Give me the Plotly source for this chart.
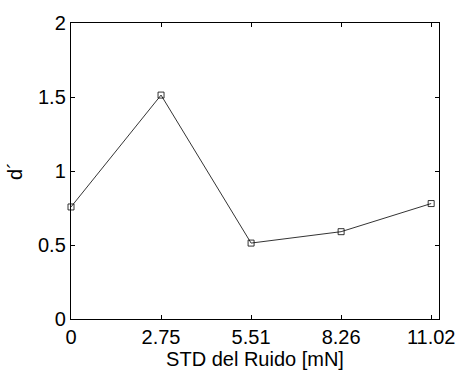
import plotly.graph_objects as go

x_vals = [0, 2.755, 5.51, 8.265, 11.02]
d_prime = [0.757, 1.513, 0.513, 0.59, 0.78]
x_ticks = [0, 2.755, 5.51, 8.265, 11.02]
x_ticklabels = ["0", "2.75", "5.51", "8.26", "11.02"]
y_ticks = [0, 0.5, 1, 1.5, 2]
y_ticklabels = ["0", "0.5", "1", "1.5", "2"]

fig = go.Figure()
fig.add_trace(go.Scatter(
    x=x_vals, y=d_prime, mode="lines+markers",
    line=dict(color="black", width=0.8),
    marker=dict(symbol="square-open", size=6, color="black", line=dict(width=0.8)),
    showlegend=False, cliponaxis=False,
))

font = dict(family="Liberation Sans, Arial, sans-serif", size=20, color="black")
fig.update_layout(
    width=467, height=374,
    margin=dict(l=71, r=24, t=15, b=55),
    paper_bgcolor="white", plot_bgcolor="white",
    font=font,
    xaxis=dict(
        range=[0, 11.26], tickvals=x_ticks, ticktext=x_ticklabels,
        ticks="inside", ticklen=4, tickcolor="black", tickwidth=1,
        showline=True, linecolor="black", linewidth=1.4, mirror="ticks",
        showgrid=False, zeroline=False, ticklabelstandoff=0,
        title=dict(text="STD del Ruido [mN]", font=font, standoff=0),
    ),
    yaxis=dict(
        range=[0, 2], tickvals=y_ticks, ticktext=y_ticklabels,
        ticks="inside", ticklen=4, tickcolor="black", tickwidth=1,
        showline=True, linecolor="black", linewidth=1.4, mirror="ticks",
        showgrid=False, zeroline=False,
        title=dict(text="d´", font=font, standoff=9),
    ),
)
fig.write_html("out.html")
